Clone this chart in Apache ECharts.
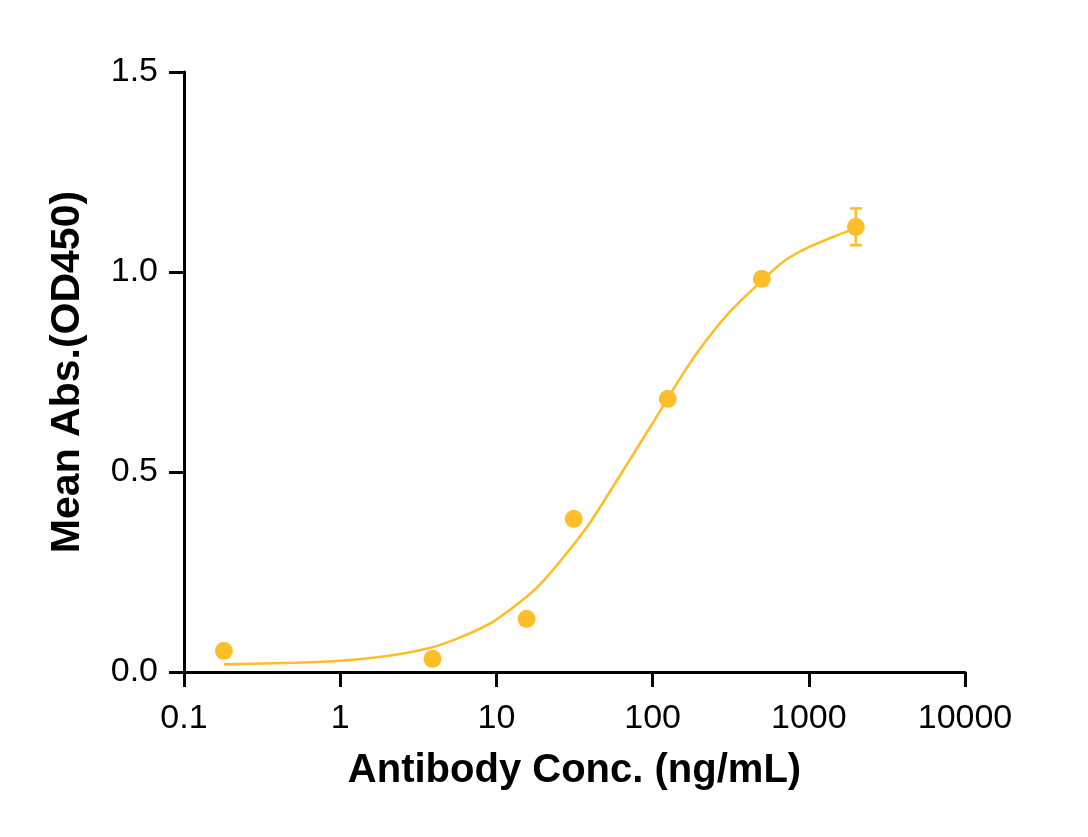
<!DOCTYPE html>
<html>
<head>
<meta charset="utf-8">
<script src="https://cdn.jsdelivr.net/npm/echarts@6/dist/echarts.min.js"></script>
<style>
  html, body { margin: 0; padding: 0; background: #fff; }
  #main { width: 1088px; height: 837px; }
</style>
</head>
<body>
<div id="main"></div>
<script>
// measured points (ng/mL vs OD450)
var conc = [0.18, 3.9, 15.6, 31.25, 125, 500, 2000];
var meanAbs = [0.053, 0.033, 0.133, 0.383, 0.683, 0.983, 1.113];
var errAbs = [0, 0, 0, 0, 0, 0, 0.046];

// fitted curve
var fitX = [0.18, 0.5, 1, 2, 3.9, 6, 8, 10, 15.6, 20, 30, 40, 60, 100, 150, 200, 300, 500, 700, 1000, 1500, 2000];
var fitY = [0.019, 0.023, 0.028, 0.04, 0.062, 0.088, 0.11, 0.131, 0.188, 0.228, 0.31, 0.375, 0.483, 0.622, 0.734, 0.807, 0.893, 0.978, 1.028, 1.062, 1.091, 1.109];

var color = '#FDBE2A';
var font = '"Liberation Sans", Arial, sans-serif';

var myChart = echarts.init(document.getElementById('main'));

var pts = conc.map(function (c, i) { return [c, meanAbs[i]]; });
var fit = fitX.map(function (c, i) { return [c, fitY[i]]; });
var errs = conc.map(function (c, i) { return [c, meanAbs[i] - errAbs[i], meanAbs[i] + errAbs[i]]; });

var option = {
  animation: false,
  grid: { left: 184, right: 123, top: 72, bottom: 165 },
  xAxis: {
    type: 'log',
    logBase: 10,
    min: 0.1,
    max: 10000,
    name: 'Antibody Conc. (ng/mL)',
    nameLocation: 'middle',
    nameGap: 79,
    nameTextStyle: { fontFamily: font, fontSize: 40, fontWeight: 'bold', color: '#000' },
    axisLine: { lineStyle: { color: '#000', width: 3 } },
    axisTick: { show: true, length: 15, lineStyle: { color: '#000', width: 3 } },
    minorTick: { show: false },
    splitLine: { show: false },
    axisLabel: {
      fontFamily: font, fontSize: 34, color: '#000', margin: 30,
      formatter: function (v) { return String(+v.toPrecision(6)); }
    }
  },
  yAxis: {
    type: 'value',
    min: 0,
    max: 1.5,
    interval: 0.5,
    name: 'Mean Abs.(OD450)',
    nameLocation: 'middle',
    nameGap: 96,
    nameTextStyle: { fontFamily: font, fontSize: 41, fontWeight: 'bold', color: '#000' },
    axisLine: { show: true, lineStyle: { color: '#000', width: 3 } },
    axisTick: { show: true, length: 15, lineStyle: { color: '#000', width: 3 } },
    splitLine: { show: false },
    axisLabel: {
      fontFamily: font, fontSize: 34, color: '#000', margin: 26,
      formatter: function (v) { return v.toFixed(1); }
    }
  },
  series: [
    {
      type: 'line',
      data: fit,
      smooth: 0.3,
      showSymbol: false,
      lineStyle: { color: color, width: 2.6 },
      z: 2
    },
    {
      type: 'custom',
      data: errs,
      renderItem: function (params, api) {
        var x = api.value(0);
        var lo = api.coord([x, api.value(1)]);
        var hi = api.coord([x, api.value(2)]);
        if (Math.abs(hi[1] - lo[1]) < 1) return null;
        var w = 6;
        var st = { stroke: color, lineWidth: 2.6 };
        return {
          type: 'group',
          children: [
            { type: 'line', shape: { x1: lo[0], y1: lo[1], x2: hi[0], y2: hi[1] }, style: st },
            { type: 'line', shape: { x1: lo[0] - w, y1: lo[1], x2: lo[0] + w, y2: lo[1] }, style: st },
            { type: 'line', shape: { x1: hi[0] - w, y1: hi[1], x2: hi[0] + w, y2: hi[1] }, style: st }
          ]
        };
      },
      z: 3
    },
    {
      type: 'scatter',
      data: pts,
      symbol: 'circle',
      symbolSize: 18,
      itemStyle: { color: color, opacity: 1 },
      z: 4
    }
  ]
};

myChart.setOption(option);
</script>
</body>
</html>
